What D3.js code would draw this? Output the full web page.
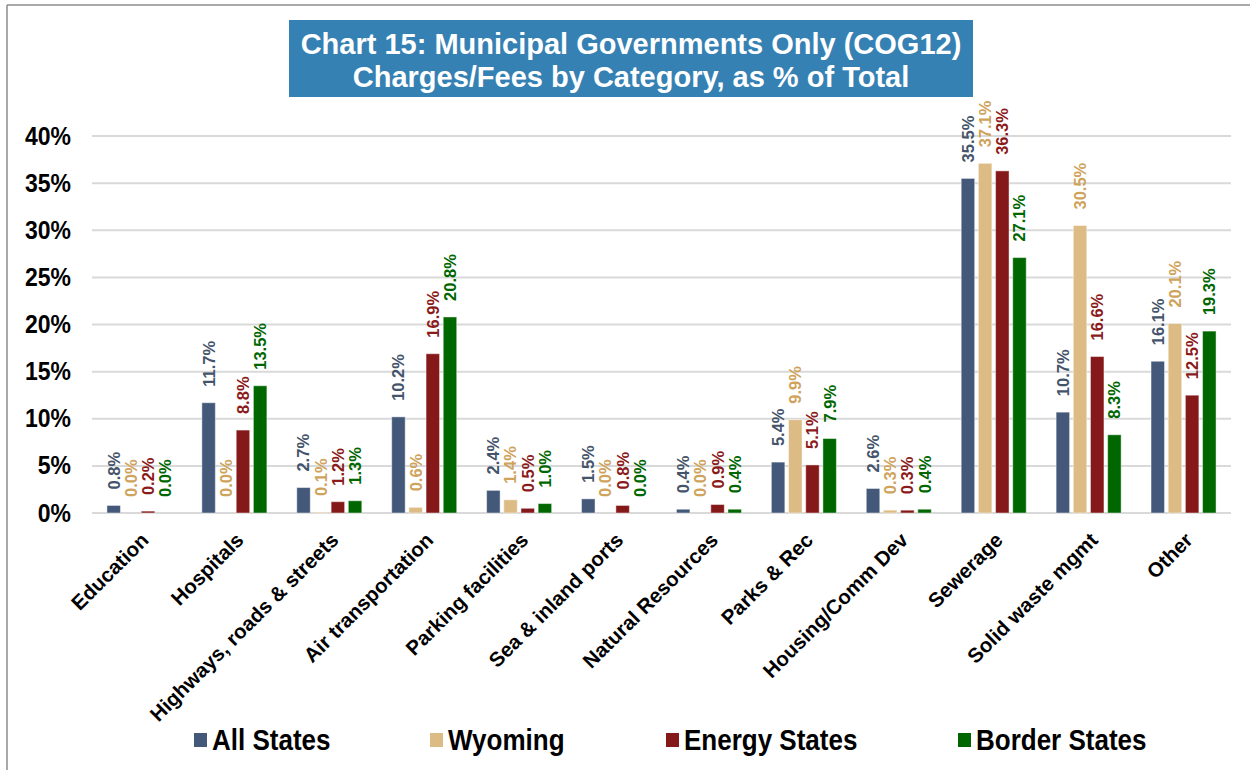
<!DOCTYPE html>
<html>
<head>
<meta charset="utf-8">
<script src="https://cdn.jsdelivr.net/npm/d3@7"></script>
<style>
  html, body { margin: 0; padding: 0; background: #ffffff; }
  svg { display: block; font-family: "Liberation Sans", Arial, sans-serif; }
</style>
</head>
<body>
<svg id="chart" width="1250" height="770"></svg>
<script>
// Categories and series values (percent of total charges/fees)
const categories = [
  "Education", "Hospitals", "Highways, roads & streets", "Air transportation",
  "Parking facilities", "Sea & inland ports", "Natural Resources", "Parks & Rec",
  "Housing/Comm Dev", "Sewerage", "Solid waste mgmt", "Other"
];
const seriesNames = ["All States", "Wyoming", "Energy States", "Border States"];
const allStates    = [0.8, 11.7, 2.7, 10.2, 2.4, 1.5, 0.4, 5.4, 2.6, 35.5, 10.7, 16.1];
const wyoming      = [0.0, 0.0, 0.1, 0.6, 1.4, 0.0, 0.0, 9.9, 0.3, 37.1, 30.5, 20.1];
const energyStates = [0.2, 8.8, 1.2, 16.9, 0.5, 0.8, 0.9, 5.1, 0.3, 36.3, 16.6, 12.5];
const borderStates = [0.0, 13.5, 1.3, 20.8, 1.0, 0.0, 0.4, 7.9, 0.4, 27.1, 8.3, 19.3];
const yTicks = [0, 5, 10, 15, 20, 25, 30, 35, 40];
const titleLines = [
  "Chart 15: Municipal Governments Only (COG12)",
  "Charges/Fees by Category, as % of Total"
];

const seriesValues = [allStates, wyoming, energyStates, borderStates];
const barColors   = ["#44587a", "#dcbb84", "#851919", "#006600"];
const labelColors = ["#44546a", "#cfa35c", "#8b1a1a", "#006600"];

const svg = d3.select("#chart");

// Frame lines
svg.append("line").attr("x1", 7).attr("x2", 7).attr("y1", 5).attr("y2", 770)
  .attr("stroke", "#8c8c8c").attr("stroke-width", 1.5);
svg.append("line").attr("x1", 7).attr("x2", 1250).attr("y1", 5).attr("y2", 5)
  .attr("stroke", "#8c8c8c").attr("stroke-width", 1.5);

// Scales
const x0 = d3.scaleBand().domain(categories).range([92, 1231])
  .paddingInner(0.315).paddingOuter(0.1575);
const x1 = d3.scaleBand().domain(seriesNames).range([0, x0.bandwidth()])
  .paddingInner(0.215).paddingOuter(0);
const y = d3.scaleLinear().domain([0, 40]).range([513, 136]);

// Gridlines
svg.append("g").selectAll("line").data(yTicks).join("line")
  .attr("x1", 92).attr("x2", 1231)
  .attr("y1", d => y(d)).attr("y2", d => y(d))
  .attr("stroke", "#d9d9d9").attr("stroke-width", 2);

// Y tick labels
svg.append("g").selectAll("text").data(yTicks).join("text")
  .attr("transform", d => `translate(71,${y(d) + 8.5}) scale(1,1.1)`)
  .attr("text-anchor", "end")
  .attr("font-size", 23).attr("font-weight", "bold").attr("fill", "#000")
  .text(d => d + "%");

// Bars and value labels
const rows = categories.map((c, i) => ({
  cat: c,
  vals: seriesNames.map((s, j) => ({ s, j, v: seriesValues[j][i] }))
}));

const groups = svg.append("g").selectAll("g").data(rows).join("g")
  .attr("transform", d => `translate(${x0(d.cat)},0)`);

groups.selectAll("rect").data(d => d.vals).join("rect")
  .attr("x", d => x1(d.s))
  .attr("width", x1.bandwidth())
  .attr("y", d => y(d.v))
  .attr("height", d => y(0) - y(d.v))
  .attr("fill", d => barColors[d.j])
  .attr("stroke", "rgba(255,255,255,0.45)")
  .attr("stroke-width", 1);

groups.selectAll("text").data(d => d.vals).join("text")
  .attr("transform", d => `translate(${x1(d.s) + x1.bandwidth() / 2},${y(d.v) - 16}) rotate(-90)`)
  .attr("dy", "0.36em")
  .attr("text-anchor", "start")
  .attr("font-size", 16.5).attr("font-weight", "bold")
  .attr("fill", d => labelColors[d.j])
  .text(d => d.v.toFixed(1) + "%");

// Category labels
svg.append("g").selectAll("text").data(categories).join("text")
  .attr("transform", d => `translate(${x0(d) + x0.bandwidth() / 2},531) rotate(-45)`)
  .attr("dy", "0.72em")
  .attr("text-anchor", "end")
  .attr("font-size", 20.5).attr("font-weight", "bold").attr("fill", "#000")
  .text(d => d);

// Title box
svg.append("rect").attr("x", 289).attr("y", 20).attr("width", 684).attr("height", 77)
  .attr("fill", "#3681b3");
svg.append("g").selectAll("text").data(titleLines).join("text")
  .attr("x", 631).attr("y", (d, i) => 54 + i * 33)
  .attr("text-anchor", "middle")
  .attr("font-size", 29).attr("font-weight", "bold").attr("fill", "#ffffff")
  .text(d => d);

// Legend
const legendX = [194, 430, 666, 958];
const legend = svg.append("g").selectAll("g").data(seriesNames).join("g")
  .attr("transform", (d, i) => `translate(${legendX[i]},733)`);
legend.append("rect").attr("width", 13).attr("height", 14)
  .attr("fill", (d, i) => barColors[i]);
legend.append("text")
  .attr("transform", "translate(18,16.5) scale(1,1.1)")
  .attr("font-size", 26).attr("font-weight", "bold").attr("fill", "#000")
  .text(d => d);
</script>
</body>
</html>
